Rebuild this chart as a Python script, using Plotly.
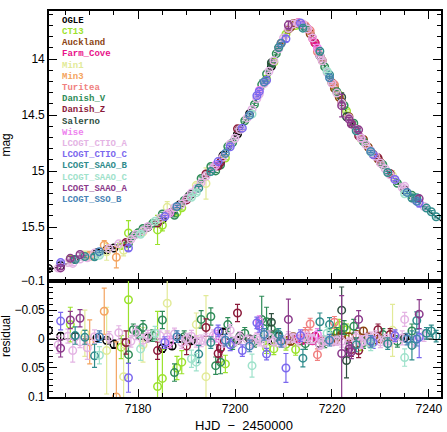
import plotly.graph_objects as go

# ---------------- data ----------------
names = ["OGLE", "CT13", "Auckland", "Farm_Cove", "Min1", "Min3", "Turitea",
         "Danish_V", "Danish_Z", "Salerno", "Wise", "LCOGT_CTIO_A",
         "LCOGT_CTIO_C", "LCOGT_SAAO_B", "LCOGT_SAAO_C", "LCOGT_SAAO_A",
         "LCOGT_SSO_B"]
colors = ["#000000", "#9be22d", "#8b4513", "#e8118a", "#e2ea98", "#f4a460",
          "#f08080", "#2e8b57", "#8b1a3a", "#2f4f3f", "#ee82ee", "#e4b4e4",
          "#7b68ee", "#308c8c", "#9fe2cb", "#8b3a8b", "#4682b4"]

# model light curve
model_t = list(range(7161, 7244))
model_mag = [15.890, 15.878, 15.864, 15.848, 15.830, 15.812, 15.795, 15.780, 15.765, 15.750,
             15.736, 15.723, 15.709, 15.693, 15.677, 15.660, 15.642, 15.620, 15.592, 15.562,
             15.532, 15.502, 15.472, 15.443, 15.415, 15.385, 15.352, 15.320, 15.287, 15.245,
             15.200, 15.152, 15.100, 15.045, 14.998, 14.952, 14.905, 14.840, 14.772, 14.702,
             14.632, 14.560, 14.488, 14.400, 14.310, 14.212, 14.112, 14.010, 13.905, 13.805,
             13.730, 13.688, 13.675, 13.690, 13.732, 13.810, 13.908, 14.010, 14.118, 14.212,
             14.300, 14.390, 14.478, 14.558, 14.630, 14.700, 14.762, 14.820, 14.872, 14.922,
             14.978, 15.030, 15.080, 15.128, 15.170, 15.210, 15.250, 15.288, 15.322, 15.358,
             15.395, 15.428, 15.460]
zero_t = [7161, 7243]
zero_res = [0.0, 0.0]

ogle_t = [7161.5, 7164.0, 7167.0, 7171.5, 7173.5, 7175.0, 7182.0, 7185.0, 7187.0, 7188.5, 7191.0, 7197.5, 7200.5, 7203.0, 7207.5, 7217.5, 7235.0]
ogle_mag = [15.869, 15.843, 15.790, 15.728, 15.703, 15.686, 15.500, 15.431, 15.364, 15.303, 15.203, 14.861, 14.669, 14.488, 14.063, 13.968, 15.168]
ogle_res = [-0.015, -0.005, -0.005, -0.002, 0.002, 0.009, -0.002, 0.016, 0.012, -0.001, 0.003, -0.012, 0.002, 0.0, 0.002, 0.009, -0.002]
ogle_err = [0.006, 0.006, 0.006, 0.006, 0.006, 0.007, 0.006, 0.007, 0.006, 0.006, 0.006, 0.005, 0.005, 0.005, 0.005, 0.005, 0.006]

ct13_t = [7166.0, 7176.5, 7178.0, 7184.0, 7185.0, 7188.0, 7189.0, 7198.0, 7206.5, 7208.0, 7210.5, 7212.5, 7220.5, 7221.5, 7223.0, 7226.0]
ct13_mag = [15.787, 15.665, 15.552, 15.525, 15.483, 15.370, 15.327, 14.883, 14.177, 14.027, 13.777, 13.700, 14.242, 14.321, 14.462, 14.710]
ct13_res = [-0.025, 0.014, -0.068, 0.082, 0.068, 0.05, 0.04, 0.043, 0.015, 0.017, 0.009, 0.018, -0.014, -0.024, -0.016, 0.01]
ct13_err = [0.03, 0.02, 0.11, 0.13, 0.05, 0.02, 0.02, 0.015, 0.01, 0.01, 0.01, 0.01, 0.01, 0.01, 0.01, 0.01]

auck_t = [7209.5, 7211.0, 7211.5, 7212.0, 7212.5, 7213.5, 7214.5, 7215.5, 7216.5, 7218.0, 7220.0, 7220.5, 7221.5, 7222.0, 7223.5, 7225.0, 7226.5, 7227.5, 7228.5, 7229.5, 7230.0]
auck_mag = [13.858, 13.732, 13.713, 13.684, 13.682, 13.686, 13.709, 13.773, 13.854, 14.013, 14.210, 14.260, 14.341, 14.382, 14.514, 14.622, 14.717, 14.787, 14.849, 14.892, 14.922]
auck_res = [0.003, 0.002, 0.004, -0.004, 0.0, 0.003, -0.002, 0.002, -0.005, 0.003, -0.002, 0.004, -0.004, -0.008, -0.004, -0.008, -0.014, -0.004, 0.003, -0.005, 0.0]
auck_err = [0.006, 0.006, 0.006, 0.006, 0.006, 0.006, 0.006, 0.006, 0.006, 0.006, 0.006, 0.006, 0.006, 0.006, 0.006, 0.006, 0.006, 0.006, 0.006, 0.006, 0.006]

farm_t = [7197.0, 7213.0, 7214.0, 7215.0, 7216.0, 7216.5]
farm_mag = [14.920, 13.675, 13.692, 13.729, 13.813, 13.855]
farm_res = [0.015, 0.0, 0.002, -0.003, 0.003, -0.004]
farm_err = [0.008, 0.006, 0.006, 0.006, 0.006, 0.006]

min1_t = [7169.0, 7173.5, 7177.0, 7181.0, 7186.0, 7192.0, 7194.0, 7232.5]
min1_mag = [15.755, 15.721, 15.707, 15.542, 15.323, 15.127, 15.110, 15.040]
min1_res = [-0.01, 0.02, 0.065, 0.01, -0.062, -0.025, 0.065, -0.015]
min1_err = [0.04, 0.075, 0.05, 0.03, 0.05, 0.02, 0.14, 0.045]

min3_t = [7170.0, 7173.0, 7175.5]
min3_mag = [15.755, 15.661, 15.769]
min3_res = [0.005, -0.048, 0.1]
min3_err = [0.038, 0.04, 0.095]

turi_t = [7214.5, 7215.5, 7217.0, 7220.5, 7228.0]
turi_mag = [13.701, 13.745, 13.935, 14.227, 14.825]
turi_res = [-0.01, -0.026, 0.027, -0.029, 0.005]
turi_err = [0.01, 0.01, 0.01, 0.01, 0.01]

danv_t = [7178.0, 7179.0, 7180.0, 7181.0, 7183.0, 7185.0, 7187.5, 7189.5, 7193.0, 7195.0, 7196.0, 7197.0, 7198.5, 7199.5, 7202.0, 7204.0, 7205.5, 7206.5, 7207.5, 7208.5, 7214.5, 7218.5, 7221.0, 7222.5, 7224.5, 7226.5, 7230.5, 7233.5, 7236.5]
danv_mag = [15.647, 15.576, 15.550, 15.512, 15.466, 15.382, 15.394, 15.262, 15.066, 14.959, 14.998, 14.945, 14.781, 14.745, 14.550, 14.404, 14.227, 14.132, 14.043, 13.951, 13.719, 14.069, 14.290, 14.414, 14.572, 14.737, 14.942, 15.108, 15.216]
danv_res = [0.027, -0.016, -0.012, -0.02, -0.006, -0.033, 0.058, -0.004, -0.034, -0.039, 0.046, 0.04, -0.025, 0.008, -0.01, 0.004, -0.034, -0.03, -0.018, -0.006, 0.008, 0.005, -0.01, -0.02, -0.022, 0.006, -0.008, 0.004, -0.014]
danv_err = [0.015, 0.01, 0.01, 0.012, 0.01, 0.015, 0.015, 0.01, 0.015, 0.015, 0.015, 0.02, 0.012, 0.01, 0.01, 0.01, 0.04, 0.025, 0.015, 0.01, 0.01, 0.01, 0.01, 0.012, 0.012, 0.01, 0.01, 0.01, 0.012]

danz_t = [7177.5, 7184.0, 7190.0, 7194.0, 7196.5, 7197.0, 7200.5, 7224.0, 7225.5, 7229.5, 7232.0]
danz_mag = [15.637, 15.463, 15.257, 15.025, 14.954, 14.921, 14.622, 14.576, 14.685, 14.881, 15.022]
danz_res = [0.006, 0.02, 0.012, -0.02, 0.025, 0.016, -0.045, 0.018, 0.02, -0.016, -0.008]
danz_err = [0.02, 0.015, 0.015, 0.015, 0.015, 0.015, 0.015, 0.012, 0.012, 0.01, 0.01]

sale_t = [7190.5, 7201.0, 7207.5, 7209.0, 7222.0, 7223.0]
sale_mag = [15.222, 14.627, 14.032, 13.900, 14.340, 14.515]
sale_res = [0.0, -0.005, -0.029, -0.005, -0.05, 0.037]
sale_err = [0.006, 0.006, 0.015, 0.006, 0.04, 0.03]

wise_t = [7186.5, 7196.0, 7205.0, 7217.0, 7226.0]
wise_mag = [15.374, 14.947, 14.280, 13.900, 14.705]
wise_res = [0.005, -0.005, -0.03, -0.008, 0.005]
wise_err = [0.01, 0.01, 0.01, 0.01, 0.01]

ctioa_t = [7163.5, 7165.5, 7166.5, 7169.5, 7171.0, 7176.0, 7179.5, 7182.0, 7184.5, 7187.5, 7190.0, 7192.0, 7194.0, 7199.0, 7200.0, 7202.5, 7204.5, 7206.0, 7208.0, 7210.0, 7212.0, 7214.0, 7216.0, 7217.5, 7219.0, 7220.0, 7221.0, 7223.5, 7227.0, 7229.0, 7231.0, 7233.0, 7234.5, 7235.0,
           7168.0, 7174.0, 7178.5, 7181.0, 7186.0, 7189.0, 7191.0, 7193.0, 7195.5, 7197.5, 7201.0, 7203.5, 7205.0, 7207.0, 7209.0, 7211.0, 7213.0, 7215.0, 7218.0, 7222.0, 7225.0, 7226.0, 7228.0, 7230.0, 7232.0, 7237.0, 7239.0]
ctioa_mag = [15.866, 15.816, 15.824, 15.773, 15.732, 15.649, 15.566, 15.497, 15.423, 15.327, 15.245, 15.156, 15.045, 14.757, 14.706, 14.525, 14.352, 14.218, 14.014, 13.811, 13.686, 13.686, 13.810, 13.969, 14.120, 14.216, 14.303, 14.524, 14.762, 14.868, 14.980, 15.076, 15.147, 15.136,
             15.785, 15.690, 15.610, 15.534, 15.381, 15.293, 15.195, 15.103, 14.969, 14.876, 14.629, 14.449, 14.312, 14.108, 13.908, 13.727, 13.677, 13.730, 14.015, 14.394, 14.627, 14.706, 14.818, 14.927, 15.033, 15.254, 15.316]
ctioa_res = [0.01, -0.005, 0.02, 0.015, -0.004, -0.011, -0.011, -0.005, -0.006, -0.009, 0.0, 0.004, 0.0, -0.015, 0.004, 0.001, -0.003, 0.006, 0.004, 0.006, -0.002, -0.004, 0.0, 0.01, 0.002, 0.004, 0.003, 0.006, 0.0, -0.004, 0.002, -0.004, -0.002, -0.034,
             0.005, -0.003, 0.004, 0.002, -0.004, 0.006, -0.005, 0.003, -0.006, 0.004, -0.003, 0.005, 0.002, -0.004, 0.003, -0.003, 0.002, -0.002, 0.005, 0.004, -0.003, 0.006, -0.002, 0.005, 0.003, 0.004, -0.006]
ctioa_err = [0.015, 0.012, 0.02, 0.02, 0.012, 0.012, 0.012, 0.01, 0.01, 0.01, 0.01, 0.01, 0.01, 0.01, 0.008, 0.008, 0.008, 0.008, 0.008, 0.008, 0.008, 0.008, 0.008, 0.008, 0.008, 0.008, 0.008, 0.008, 0.01, 0.01, 0.01, 0.01, 0.012, 0.012,
             0.01, 0.01, 0.01, 0.01, 0.01, 0.01, 0.01, 0.01, 0.01, 0.01, 0.01, 0.01, 0.01, 0.01, 0.01, 0.01, 0.01, 0.01, 0.01, 0.01, 0.01, 0.01, 0.01, 0.01, 0.01, 0.01, 0.01]

ctioc_t = [7164.0, 7178.0, 7185.5, 7196.5, 7199.0, 7201.5, 7204.5, 7205.0, 7206.5, 7210.5, 7213.5, 7228.5, 7233.0, 7238.0]
ctioc_mag = [15.817, 15.687, 15.406, 14.915, 14.782, 14.616, 14.327, 14.288, 14.188, 13.818, 13.677, 14.852, 15.074, 15.285]
ctioc_res = [-0.031, 0.067, 0.006, -0.014, 0.01, 0.02, -0.028, -0.022, 0.026, 0.05, -0.006, 0.006, -0.006, -0.003]
ctioc_err = [0.015, 0.025, 0.01, 0.01, 0.01, 0.01, 0.01, 0.01, 0.01, 0.025, 0.01, 0.01, 0.01, 0.035]

saaob_t = [7167.0, 7169.0, 7171.0, 7192.5, 7195.0, 7209.0, 7214.0, 7217.5, 7219.5, 7225.0, 7231.5, 7236.5, 7237.5, 7239.5, 7240.5, 7241.5]
saaob_mag = [15.789, 15.762, 15.765, 15.152, 15.004, 13.897, 13.723, 13.929, 14.140, 14.640, 15.012, 15.241, 15.237, 15.330, 15.363, 15.407]
saaob_res = [-0.006, -0.003, 0.029, 0.026, 0.006, -0.008, 0.033, -0.03, -0.025, 0.01, 0.008, 0.011, -0.032, -0.01, -0.014, -0.005]
saaob_err = [0.015, 0.012, 0.02, 0.015, 0.01, 0.01, 0.015, 0.015, 0.012, 0.012, 0.01, 0.025, 0.015, 0.01, 0.01, 0.01]

saaoc_t = [7172.0, 7180.5, 7183.5, 7191.0, 7192.0, 7203.5, 7219.0, 7228.0, 7235.0]
saaoc_mag = [15.751, 15.564, 15.448, 15.234, 15.192, 14.490, 14.108, 14.830, 15.202]
saaoc_res = [0.028, 0.017, -0.01, 0.034, 0.04, 0.046, -0.01, 0.01, 0.032]
saaoc_err = [0.015, 0.02, 0.012, 0.015, 0.015, 0.02, 0.01, 0.01, 0.015]

saaoa_t = [7164.0, 7166.0, 7168.0, 7211.0, 7222.0, 7223.5, 7224.0, 7225.5, 7238.0]
saaoa_mag = [15.864, 15.779, 15.744, 13.696, 14.415, 14.535, 14.580, 14.631, 15.245]
saaoa_res = [0.016, -0.033, -0.036, -0.034, 0.025, 0.017, 0.022, -0.034, -0.043]
saaoa_err = [0.015, 0.015, 0.015, 0.035, 0.1, 0.012, 0.012, 0.015, 0.025]

ssob_t = [7172.0, 7188.0, 7198.0, 7203.0, 7206.0, 7209.5, 7219.5, 7228.0, 7235.5, 7237.5]
ssob_mag = [15.719, 15.316, 14.842, 14.500, 14.204, 13.859, 14.167, 14.824, 15.190, 15.269]
ssob_res = [-0.004, -0.004, 0.002, 0.012, -0.008, 0.004, 0.002, 0.004, 0.0, 0.0]
ssob_err = [0.01, 0.01, 0.01, 0.01, 0.01, 0.01, 0.01, 0.01, 0.01, 0.012]

x_tick_vals = [7180, 7200, 7220, 7240]
x_tick_text = ["7180", "7200", "7220", "7240"]
res_tick_vals = [-0.1, -0.05, 0, 0.05, 0.1]
res_tick_text = ["\u22120.1", "\u22120.05", "0", "0.05", "0.1"]
mag_tick_vals = [14, 14.5, 15, 15.5]
mag_tick_text = ["14", "14.5", "15", "15.5"]

series_t = [ogle_t, ct13_t, auck_t, farm_t, min1_t, min3_t, turi_t, danv_t, danz_t,
            sale_t, wise_t, ctioa_t, ctioc_t, saaob_t, saaoc_t, saaoa_t, ssob_t]
series_mag = [ogle_mag, ct13_mag, auck_mag, farm_mag, min1_mag, min3_mag, turi_mag, danv_mag, danz_mag,
              sale_mag, wise_mag, ctioa_mag, ctioc_mag, saaob_mag, saaoc_mag, saaoa_mag, ssob_mag]
series_res = [ogle_res, ct13_res, auck_res, farm_res, min1_res, min3_res, turi_res, danv_res, danz_res,
              sale_res, wise_res, ctioa_res, ctioc_res, saaob_res, saaoc_res, saaoa_res, ssob_res]
series_err = [ogle_err, ct13_err, auck_err, farm_err, min1_err, min3_err, turi_err, danv_err, danz_err,
              sale_err, wise_err, ctioa_err, ctioc_err, saaob_err, saaoc_err, saaoa_err, ssob_err]

# ---------------- figure ----------------
W, H = 447, 432
ML, MR, MT, MB = 49, 6, 4, 35
split = 118 / 393.0

fig = go.Figure()
fig.add_trace(go.Scatter(x=model_t, y=model_mag, mode="lines",
                         line=dict(color="black", width=1.2),
                         xaxis="x", yaxis="y", showlegend=False, hoverinfo="skip"))
fig.add_trace(go.Scatter(x=zero_t, y=zero_res, mode="lines",
                         line=dict(color="black", width=1.2, dash="dash"),
                         xaxis="x2", yaxis="y2", showlegend=False, hoverinfo="skip"))

for name, c, t, m, r, e in zip(names, colors, series_t, series_mag, series_res, series_err):
    mk = dict(symbol="circle-open", size=7.5, color=c, line=dict(width=1.5, color=c))
    eb = dict(type="data", array=e, visible=True, color=c, thickness=1.2, width=2.5)
    fig.add_trace(go.Scatter(x=t, y=m, mode="markers", name=name, marker=mk,
                             error_y=eb, xaxis="x", yaxis="y", showlegend=False))
    fig.add_trace(go.Scatter(x=t, y=r, mode="markers", name=name, marker=mk,
                             error_y=eb, xaxis="x2", yaxis="y2", showlegend=False))

tickfont = dict(family="Liberation Sans, Arial, sans-serif", size=12, color="black")
common = dict(showline=True, linecolor="black", linewidth=1.6, mirror="allticks",
              ticks="inside", tickcolor="black", tickwidth=1.2, showgrid=False,
              zeroline=False, tickfont=tickfont)
xr = [7161.6, 7242.5]

fig.update_layout(
    width=W, height=H, margin=dict(l=ML, r=MR, t=MT, b=MB),
    paper_bgcolor="white", plot_bgcolor="white", showlegend=False,
    xaxis=dict(domain=[0, 1], anchor="y", range=xr, tickvals=x_tick_vals,
               showticklabels=False, ticklen=8,
               minor=dict(dtick=5, tick0=7180, ticks="inside", ticklen=4,
                          tickcolor="black", tickwidth=1), **common),
    yaxis=dict(domain=[split, 1], anchor="x", range=[15.982, 13.57],
               tickvals=mag_tick_vals, ticktext=mag_tick_text, ticklen=8,
               minor=dict(dtick=0.1, tick0=14, ticks="inside", ticklen=4,
                          tickcolor="black", tickwidth=1), **common),
    xaxis2=dict(domain=[0, 1], anchor="y2", range=xr, tickvals=x_tick_vals,
                ticktext=x_tick_text, ticklen=8,
                minor=dict(dtick=5, tick0=7180, ticks="inside", ticklen=4,
                           tickcolor="black", tickwidth=1), **common),
    yaxis2=dict(domain=[0, split], anchor="x2", range=[0.1002, -0.1002],
                tickvals=res_tick_vals, ticktext=res_tick_text, ticklen=8,
                minor=dict(dtick=0.01, tick0=0, ticks="inside", ticklen=4,
                           tickcolor="black", tickwidth=1), **common),
)

ann = []
pw, ph = W - ML - MR, H - MT - MB
for i, (name, c) in enumerate(zip(names, colors)):
    py = 14 + 11.4 * i
    ann.append(dict(x=(60 - ML) / pw, y=(H - MB - py) / ph, xref="paper", yref="paper",
                    text="<b>%s</b>" % name, showarrow=False, xanchor="left", yanchor="middle",
                    font=dict(family="Liberation Mono, Courier New, monospace", size=9, color=c)))
titlefont = dict(family="Liberation Sans, Arial, sans-serif", size=12, color="black")
ann.append(dict(x=(6 - ML) / pw, y=(H - MB - 141) / ph, xref="paper", yref="paper", text="mag",
                textangle=-90, showarrow=False, xanchor="center", yanchor="middle", font=titlefont))
ann.append(dict(x=(6 - ML) / pw, y=(H - MB - 335) / ph, xref="paper", yref="paper", text="residual",
                textangle=-90, showarrow=False, xanchor="center", yanchor="middle", font=titlefont))
ann.append(dict(x=(244 - ML) / pw, y=(H - MB - 426) / ph, xref="paper", yref="paper",
                text="HJD  \u2212  2450000", showarrow=False, xanchor="center", yanchor="middle",
                font=dict(family="Liberation Sans, Arial, sans-serif", size=13, color="black")))
fig.update_layout(annotations=ann)

fig.write_html("out.html")
